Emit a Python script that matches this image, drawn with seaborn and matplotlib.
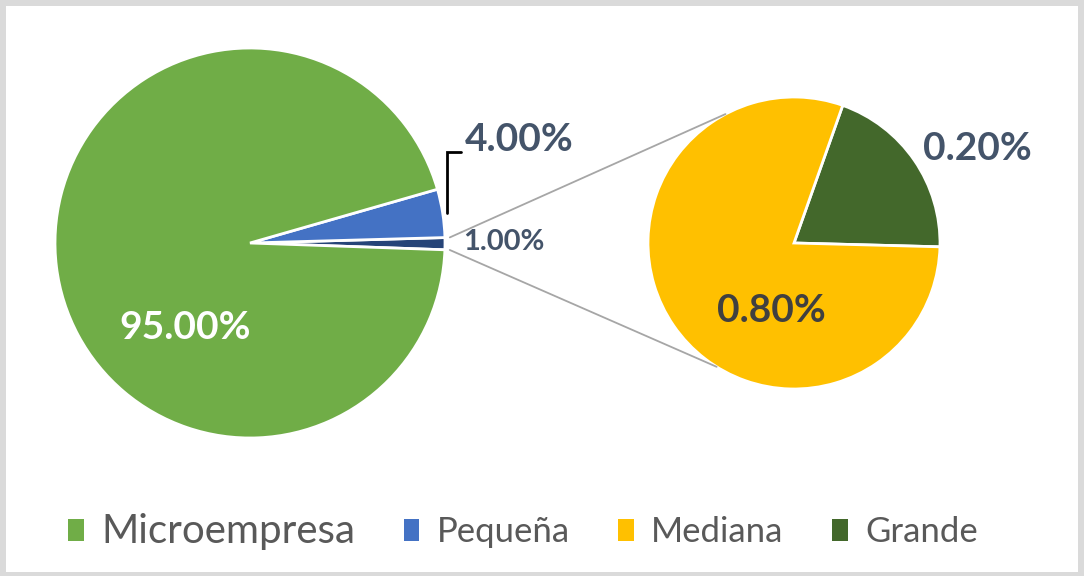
import numpy as np
import matplotlib
matplotlib.use("Agg")
import matplotlib.pyplot as plt
from matplotlib.patches import Patch, Rectangle
import seaborn as sns

# ---- data ----
categories = ["Microempresa", "Pequeña", "Mediana", "Grande"]
shares = [95.0, 4.0, 0.8, 0.2]
colors = ["#70AD47", "#4472C4", "#FFC000", "#43682B"]
other_color = "#264478"

sns.set_theme(style="white")
plt.rcParams["font.family"] = ["Lato", "DejaVu Sans"]

W, H = 1084, 576
fig = plt.figure(figsize=(W / 100, H / 100), dpi=100, facecolor="#DADADA")
ax = fig.add_axes([0, 0, 1, 1])
ax.set_facecolor("none")

# white card inside the grey frame
ax.add_patch(Rectangle((6, 4), W - 12, H - 10, facecolor="white", edgecolor="none", zorder=0))

# ---- left pie: Micro, Pequeña, other(Mediana+Grande) ----
c1, r1 = (250, 333), 195
c2, r2 = (794, 333), 146
other_val = shares[2] + shares[3]
left_vals = [other_val, shares[1], shares[0]]
start1 = -2.0
w1, _ = ax.pie(left_vals, colors=[other_color, colors[1], colors[0]], startangle=start1,
               counterclock=True, center=c1, radius=r1, frame=True,
               wedgeprops=dict(edgecolor="white", linewidth=2))

# ---- right pie: Grande, Mediana ----
right_vals = [shares[3], shares[2]]
start2 = -1.5
w2, _ = ax.pie(right_vals, colors=[colors[3], colors[2]], startangle=start2,
               counterclock=True, center=c2, radius=r2, frame=True,
               wedgeprops=dict(edgecolor="white", linewidth=2))

def pt(c, r, ang):
    a = np.deg2rad(ang)
    return c[0] + r * np.cos(a), c[1] + r * np.sin(a)

# connector lines from the "other" wedge to the second pie
o_lo = w1[0].theta1
o_hi = w1[0].theta2
for a_left, a_right in [(o_hi, 118), (o_lo, 238)]:
    x0, y0 = pt(c1, r1 * 1.025, a_left)
    x1, y1 = pt(c2, r2, a_right)
    ax.plot([x0, x1], [y0, y1], color="#A6A6A6", lw=1.3, zorder=1)

# ---- data labels ----
lab_col = "#44546A"
def lab(c, r, frac, ang, txt, color, size):
    x, y = pt(c, r * frac, ang)
    ax.text(x, y, txt, ha="center", va="center", color=color, fontsize=size,
            fontweight="bold", zorder=5)
    return x, y

lab(c1, r1, 0.545, 232.3, f"{shares[0]:.2f}%", "white", 28)
lx, ly = lab(c1, r1, 1.477, 21.0, f"{shares[1]:.2f}%", lab_col, 28)
lab(c1, r1, 1.30, 0.2, f"{other_val:.2f}%", lab_col, 21)
lab(c2, r2, 1.41, 27.2, f"{shares[3]:.2f}%", lab_col, 28)
lab(c2, r2, 0.49, 251.3, f"{shares[2]:.2f}%", "#404040", 28)

# leader line for the Pequeña label
mid = (w1[1].theta1 + w1[1].theta2) / 2
sx, sy = pt(c1, r1 * 1.02, mid)
ax.plot([sx, sx, lx - 58], [sy, ly - 12, ly - 12], color="black", lw=2, zorder=4,
        solid_joinstyle="miter")

# ---- legend ----
handles = [Patch(facecolor=c, edgecolor="none") for c in colors]
leg = ax.legend(handles, categories, loc="center", bbox_to_anchor=(523 / W, 1 - 531 / H),
                ncol=4, frameon=False, fontsize=25, handlelength=0.45, handleheight=0.6,
                handletextpad=0.5, columnspacing=1.4, borderpad=0)
for i, t in enumerate(leg.get_texts()):
    t.set_color("#595959")
leg.get_texts()[0].set_fontsize(29)

ax.set_xlim(0, W)
ax.set_ylim(0, H)
ax.set_aspect("equal")
ax.axis("off")

fig.savefig("out.png", dpi=100, facecolor=fig.get_facecolor())
